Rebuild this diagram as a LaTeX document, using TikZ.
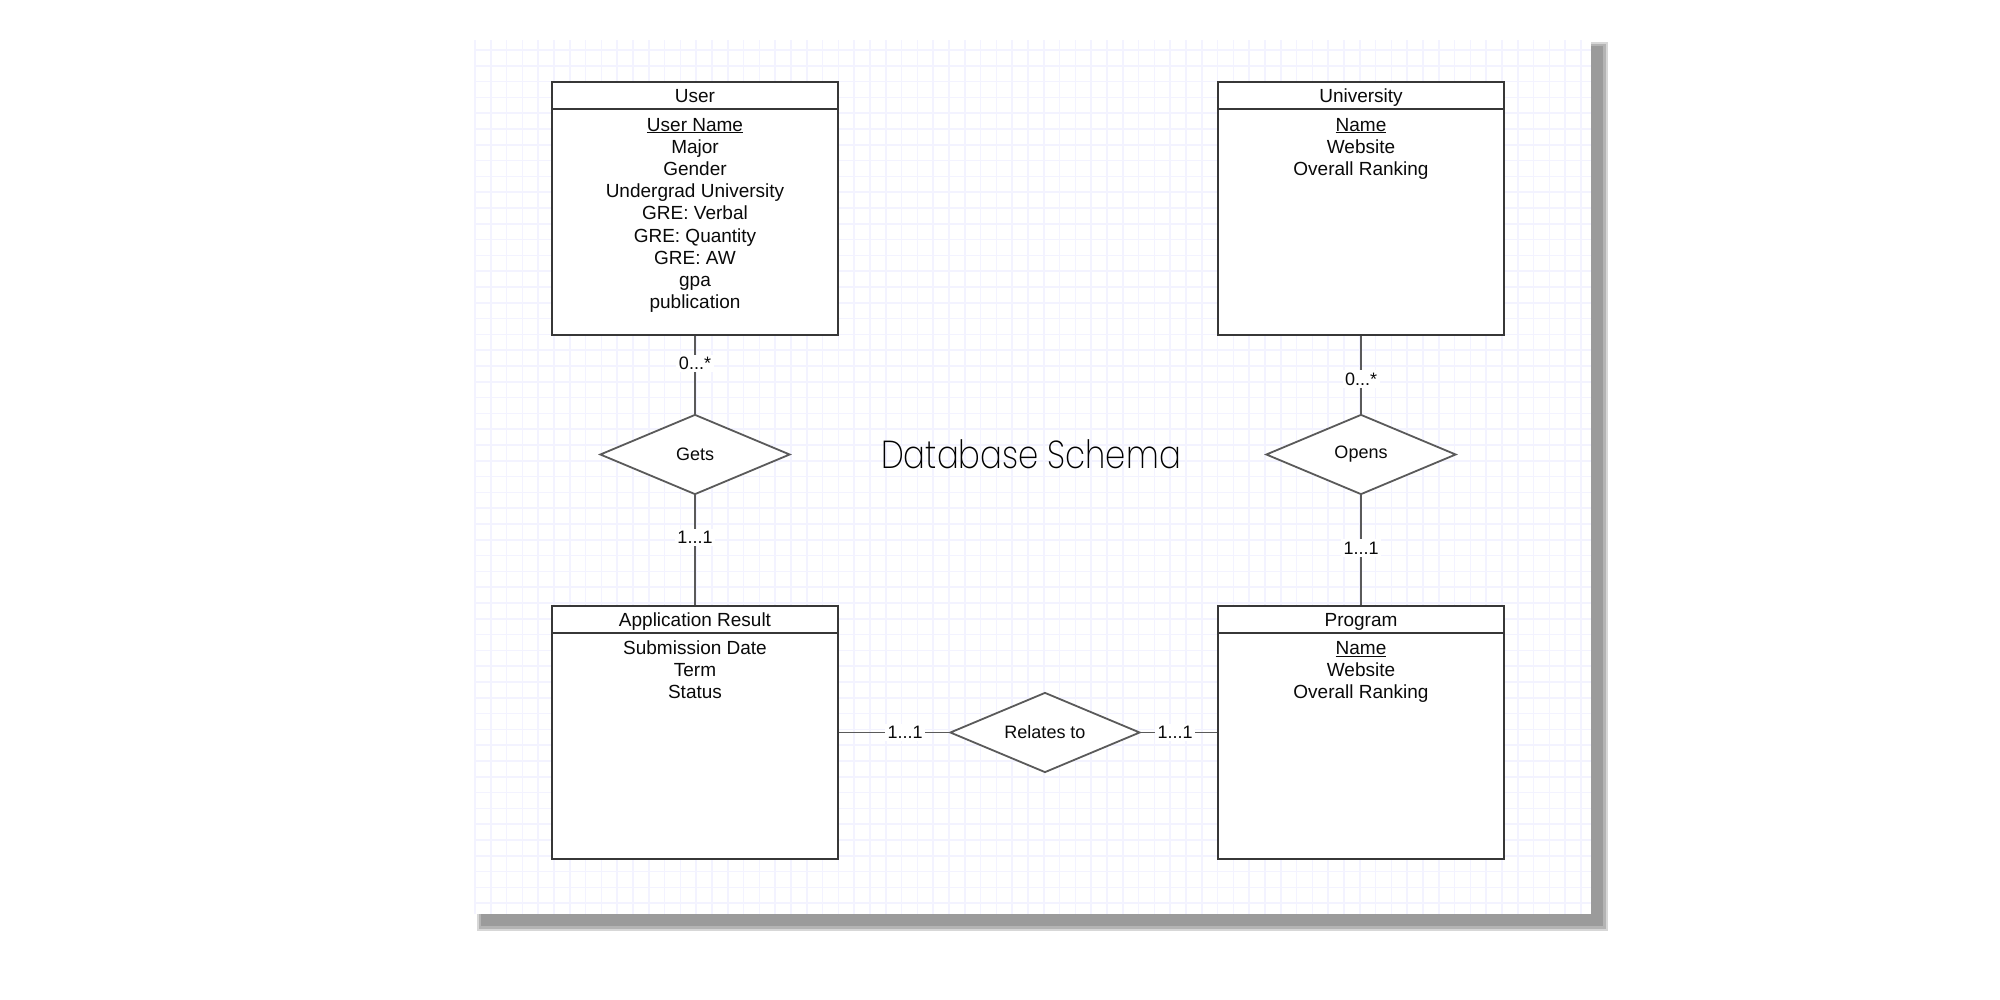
\documentclass[tikz,border=0pt]{standalone}
\usepackage{fontspec}
\setmainfont{Liberation Sans}
\IfFontExistsTF{Poppins ExtraLight}{\newfontfamily\titlefont{Poppins ExtraLight}[FakeStretch=0.83]}{\IfFontExistsTF{Poppins Light}{\newfontfamily\titlefont{Poppins Light}[FakeStretch=0.83]}{\newfontfamily\titlefont{Poppins}[FakeStretch=0.83]}}
\usetikzlibrary{shapes.geometric}
\definecolor{gridc}{RGB}{243,243,255}
\definecolor{boxc}{RGB}{55,55,55}
\definecolor{relc}{RGB}{90,90,90}
\definecolor{txtc}{RGB}{10,10,10}
\definecolor{shadowc}{RGB}{155,155,155}
\begin{document}
\begin{tikzpicture}[x=1pt,y=-1pt,
 entity/.style={draw=boxc, line width=1.8pt, fill=white, minimum width=286pt, minimum height=253pt, inner sep=0pt},
 rel/.style={diamond, draw=relc, line width=1.8pt, fill=white, minimum width=190pt, minimum height=80pt, inner sep=0pt, aspect=2.4, font=\fontsize{18}{20}\selectfont, text=txtc},
 conn/.style={draw=relc, line width=1.8pt},
 card/.style={fill=white, inner sep=2.5pt, font=\fontsize{18}{20}\selectfont, text=txtc},
 attr/.style={anchor=base, inner sep=0pt, font=\fontsize{19}{22}\selectfont, text=txtc},
 gridline/.style={draw=gridc, line width=1.5pt}]
\useasboundingbox (0,0) rectangle (2000,1000);
% shadow and paper
\fill[shadowc!40] (477,42) rectangle (1608,931);
\fill[shadowc!75] (479,44) rectangle (1606,929);
\fill[shadowc] (481,46) rectangle (1603,926);
\fill[white] (474,40) rectangle (1591,914);
\foreach \k in {0,...,70} \draw[gridline] ({475+15.8*\k},40) -- ({475+15.8*\k},914);
\foreach \k in {0,...,54} \draw[gridline] (474,{50+15.8*\k}) -- (1591,{50+15.8*\k});
% entities
\node[entity] (user) at (695,208.5) {};
\node[entity] (univ) at (1361,208.5) {};
\node[entity] (app) at (695,732.5) {};
\node[entity] (prog) at (1361,732.5) {};
\foreach \e in {user,univ,app,prog}
  \draw[draw=boxc, line width=1.8pt] ([yshift=-28pt]\e.north west) -- ([yshift=-28pt]\e.north east);
% titles
\node[attr] (user-t) at (695,102.8) {User};
\node[attr] (univ-t) at (1361,102.8) {University};
\node[attr] (app-t) at (695,626.3) {Application Result};
\node[attr] (prog-t) at (1361,626.3) {Program};
% attributes
\foreach \t [count=\i from 0] in {\underline{User Name},Major,Gender,Undergrad University,GRE: Verbal,GRE: Quantity,GRE: AW,gpa,publication}
  \node[attr] (user-\i) at (695,{131.1+22.2*\i}) {\t};
\foreach \t [count=\i from 0] in {\underline{Name},Website,Overall Ranking}
  \node[attr] (univ-\i) at (1361,{131.1+22.2*\i}) {\t};
\foreach \t [count=\i from 0] in {Submission Date,Term,Status}
  \node[attr] (app-\i) at (695,{654.3+22.2*\i}) {\t};
\foreach \t [count=\i from 0] in {\underline{Name},Website,Overall Ranking}
  \node[attr] (prog-\i) at (1361,{654.3+22.2*\i}) {\t};
% relationships
\node[rel] (gets) at (695,454.5) {Gets};
\node[rel] (opens) at (1361,454.5) {Opens};
\node[rel] (relates) at (1045,732.5) {Relates to};
% connectors
\draw[conn] (user.south) -- node[card, pos=0.354] (c1) {0...*} (gets.north);
\draw[conn] (univ.south) -- node[card, pos=0.557] (c2) {0...*} (opens.north);
\draw[conn] (gets.south) -- node[card, pos=0.384] (c3) {1...1} (app.north);
\draw[conn] (opens.south) -- node[card, pos=0.48] (c4) {1...1} (prog.north);
\draw[conn] (app.east) -- node[card, pos=0.6] (c5) {1...1} (relates.west);
\draw[conn] (relates.east) -- node[card, pos=0.45] (c6) {1...1} (prog.west);
% title
\node[inner sep=0pt, anchor=base, font=\titlefont\fontsize{39}{40}\selectfont] (title) at (1031,468) {Database Schema};
\end{tikzpicture}
\end{document}
